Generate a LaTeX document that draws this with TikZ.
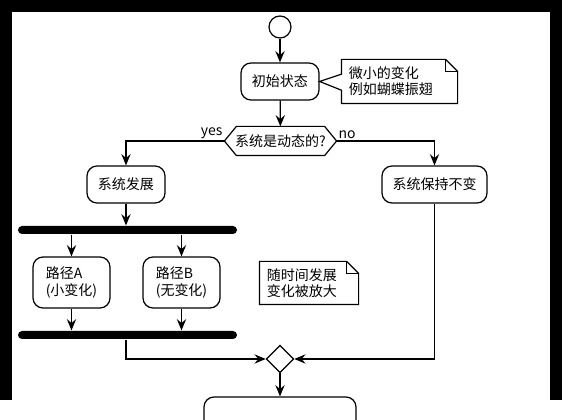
\documentclass[tikz,border=0pt]{standalone}
\usepackage{fontspec}
\setmainfont{Noto Sans CJK SC}
\usetikzlibrary{arrows.meta,calc,positioning,shapes.geometric}

\begin{document}
\begin{tikzpicture}[x=0.75pt,y=-0.75pt,line width=0.9pt,>={Stealth[length=8.5pt,width=7pt,inset=3pt]}]

\tikzset{activity/.style={draw,fill=white,rounded corners=7.5pt,inner sep=2pt,align=left,font=\fontsize{10.5}{12.5}\selectfont,minimum height=27.75pt},
forkbar/.style={fill=black,rounded corners=3pt,minimum width=164.25pt,minimum height=6pt,inner sep=0pt},
notetext/.style={align=left,inner xsep=5.25pt,inner ysep=0pt,font=\fontsize{10.5}{12}\selectfont},
branch/.style={font=\fontsize{10.5}{12}\selectfont,inner sep=1pt}}

% Frame
\fill[black] (0,0) rectangle (562,400);
\fill[white] (12,12) rectangle (550,420);
\useasboundingbox (0,0) rectangle (562,400);

% Start and first activity
\node[draw,circle,minimum size=16.5pt,inner sep=0pt] (start) at (280,27) {};
\node[activity,minimum width=58.5pt] (init) at (280,81.5) {初始状态};

% Note on the first activity
\node[notetext,text width=75.75pt,minimum height=32.25pt] (note1) at (399.5,81.5) {微小的变化\\例如蝴蝶振翅};
\draw (note1.north west) -- ([xshift=-9pt]note1.north east) -- ([yshift=-9pt]note1.north east) -- (note1.south east) -- (note1.south west)
  -- ([yshift=-6.5pt]note1.west) -- (init.east) -- ([yshift=5.5pt]note1.west) -- cycle;
\draw ([xshift=-9pt]note1.north east) -- ([xshift=-9pt,yshift=-9pt]note1.north east) -- ([yshift=-9pt]note1.north east);

% Decision
\node[branch,minimum width=83.25pt,minimum height=21pt] (dec) at (280.5,141) {系统是动态的?};
\draw (dec.west) -- ([xshift=9pt]dec.north west) -- ([xshift=-9pt]dec.north east) -- (dec.east)
  -- ([xshift=-9pt]dec.south east) -- ([xshift=9pt]dec.south west) -- cycle;
\node[branch,anchor=south east] (yes) at (dec.west) {yes};
\node[branch,anchor=south west] (no) at (dec.east) {no};

% Branches
\node[activity,minimum width=58.5pt] (sysdev) at (126,184.5) {系统发展};
\node[activity,minimum width=78.75pt] (sysstay) at (434.5,184.5) {系统保持不变};

% Fork
\node[forkbar] (bar1) at (127.5,230) {};
\node[activity,minimum width=57.75pt,minimum height=38.25pt] (pathA) at (71.5,282.5) {路径A\\(小变化)};
\node[activity,minimum width=57.75pt,minimum height=38.25pt] (pathB) at (181.5,282.5) {路径B\\(无变化)};
\node[forkbar] (bar2) at (127.5,335) {};

% Free note
\node[notetext,text width=63pt,minimum height=31.5pt] (note2) at (309,283) {随时间发展\\变化被放大};
\draw (note2.north west) -- ([xshift=-9pt]note2.north east) -- ([yshift=-9pt]note2.north east) -- (note2.south east) -- (note2.south west) -- cycle;
\draw ([xshift=-9pt]note2.north east) -- ([xshift=-9pt,yshift=-9pt]note2.north east) -- ([yshift=-9pt]note2.north east);

% Merge and last activity
\node[draw,diamond,fill=white,minimum size=20.5pt,inner sep=0pt] (merge) at (280,359) {};
\node[draw,rounded corners=7.5pt,minimum width=114pt,minimum height=27.75pt] (final) at (280,415.5) {};

% Edges
\draw[->] (start) -- (init);
\draw[->] (init) -- (dec);
\draw[->] (dec.west) -| (sysdev);
\draw[->] (dec.east) -| (sysstay);
\draw[->] (sysdev.south) -- (sysdev.south |- bar1.north);
\draw[->] (pathA.north |- bar1.south) -- (pathA); \draw[->] (pathB.north |- bar1.south) -- (pathB);
\draw[->] (pathA) -- (pathA.south |- bar2.north); \draw[->] (pathB) -- (pathB.south |- bar2.north);
\draw[->] (sysdev.south |- bar2.south) |- (merge.west);
\draw[->] (sysstay) |- (merge.east);
\draw[->] (merge) -- (final);

\end{tikzpicture}
\end{document}
